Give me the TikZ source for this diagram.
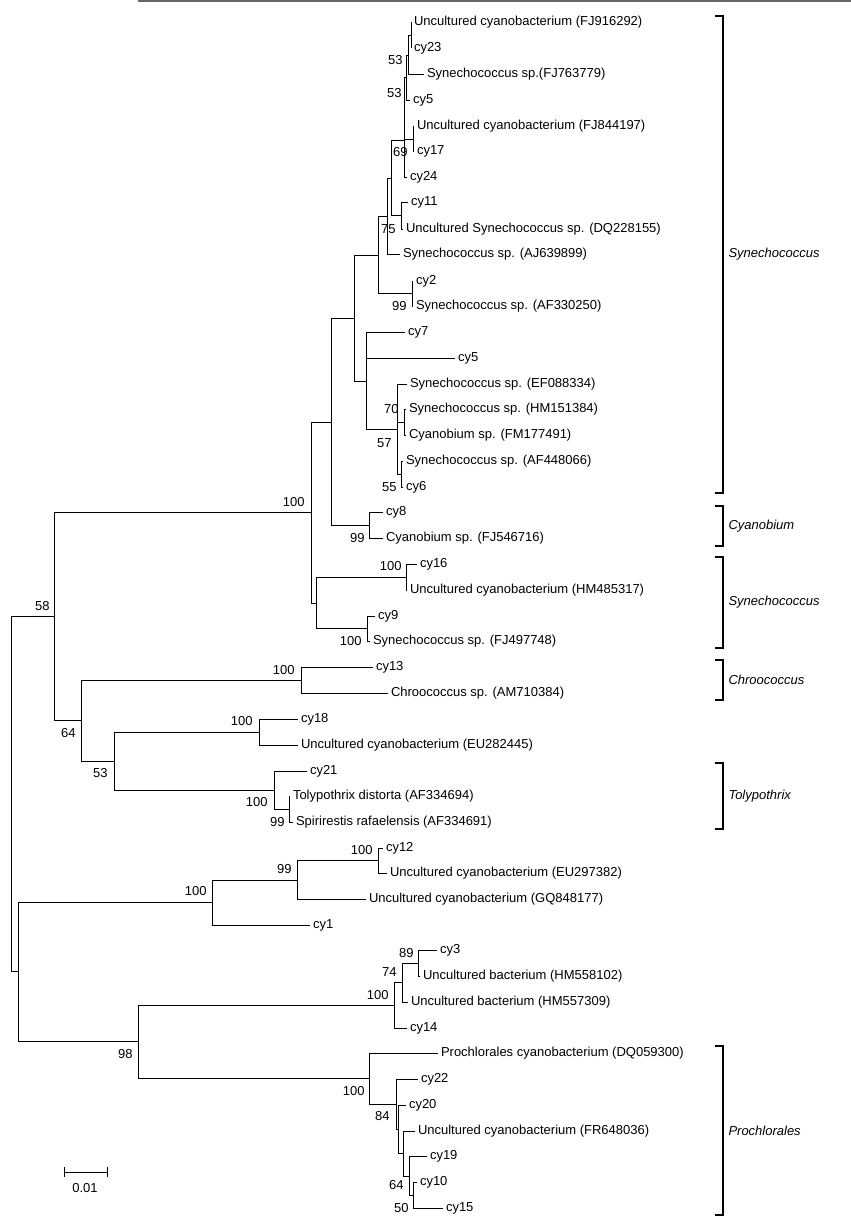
\documentclass[tikz,border=0pt]{standalone}
\usepackage{fontspec}
\setmainfont{Liberation Sans}
\begin{document}
\begin{tikzpicture}[x=1pt,y=-1pt,line width=1pt,
  leaf/.style={anchor=west,inner sep=0pt,inner xsep=2.5pt,font=\fontsize{13}{15}\selectfont},
  bs/.style={anchor=east,inner sep=0pt,font=\fontsize{13}{15}\selectfont},
  grp/.style={anchor=west,inner sep=0pt,font=\fontsize{13}{15}\selectfont\itshape},
  br/.style={line width=1.2pt}]
\useasboundingbox (0,0) rectangle (851,1224);
\draw[gray!80!black,line width=1.3pt] (138,1) -- (851,1);
% leaves
\foreach \n/\x/\y/\t in {
L1/411/22/{Uncultured cyanobacterium (FJ916292)},
L2/411/48/{cy23},
L3/424/74/{Synechococcus sp.(FJ763779)},
L4/410/100/{cy5},
L5/414/126/{Uncultured cyanobacterium (FJ844197)},
L6/414/151/{cy17},
L7/407/177/{cy24},
L8/408/202/{cy11},
L9/403/229/{Uncultured Synechococcus sp. (DQ228155)},
L10/400/254/{Synechococcus sp. (AJ639899)},
L11/413/281/{cy2},
L12/413/306/{Synechococcus sp. (AF330250)},
L13/405/332/{cy7},
L14/455/358/{cy5},
L15/407/384/{Synechococcus sp. (EF088334)},
L16/406/409/{Synechococcus sp. (HM151384)},
L17/406/435/{Cyanobium sp. (FM177491)},
L18/403/461/{Synechococcus sp. (AF448066)},
L19/403/487/{cy6},
L20/383/512/{cy8},
L21/383/538/{Cyanobium sp. (FJ546716)},
L22/417/564/{cy16},
L23/407/590/{Uncultured cyanobacterium (HM485317)},
L24/375/616/{cy9},
L25/370/641/{Synechococcus sp. (FJ497748)},
L26/373/667/{cy13},
L27/388/693/{Chroococcus sp. (AM710384)},
L28/298/719/{cy18},
L29/298/745/{Uncultured cyanobacterium (EU282445)},
L30/307/771/{cy21},
L31/290/796/{Tolypothrix distorta (AF334694)},
L32/293/822/{Spirirestis rafaelensis (AF334691)},
L33/383/848/{cy12},
L34/387/873/{Uncultured cyanobacterium (EU297382)},
L35/366/899/{Uncultured cyanobacterium (GQ848177)},
L36/310/925/{cy1},
L37/437/950/{cy3},
L38/420/976/{Uncultured bacterium (HM558102)},
L39/408/1002/{Uncultured bacterium (HM557309)},
L40/407/1028/{cy14},
L41/438/1053/{Prochlorales cyanobacterium (DQ059300)},
L42/418/1079/{cy22},
L43/406/1105/{cy20},
L44/415/1131/{Uncultured cyanobacterium (FR648036)},
L45/427/1156/{cy19},
L46/417/1182/{cy10},
L47/443/1208/{cy15}}
  {\node[leaf] (\n) at (\x,\y) {\t};}
% internal nodes
\foreach \n/\x/\y in {n1/411/35,n2/408/55,n3/406/77,n4/413/139,n5/404/140,n6/401/215,
 n7/391/178,n8/387/216,n10/412/293,n9/378/255,n14/404/422,n15/401/474,n13/397/429,
 n12/366/381,n11/354/318,n17/369/525,n16/331/422,n20/406/577,n21/367/628,n19/316/603,
 n18/311/512,n23/301/680,n24/259/732,n25/289/809,n26/274/790,n27/114/761,n28/81/720,
 n22/54/616,n29/378/860,n30/297/880,n31/212/902,n36/418/963,n37/402/982,n34/394/1005,
 n42/413/1195,n41/409/1176,n40/403/1153,n39/398/1129,n38/396/1104,n35/369/1078,
 n33/138/1041,n32/18/971,root/11/793}
  {\coordinate (\n) at (\x,\y);}
% edges
\foreach \p/\c in {n1/L1.west,n1/L2.west,n2/n1,n2/L3.west,n3/n2,n3/L4.west,
 n4/L5.west,n4/L6.west,n5/n3,n5/n4,n5/L7.west,n6/L8.west,n6/L9.west,
 n7/n5,n7/n6,n8/n7,n8/L10.west,n10/L11.west,n10/L12.west,n9/n8,n9/n10,
 n14/L16.west,n14/L17.west,n15/L18.west,n15/L19.west,n13/L15.west,n13/n14,n13/n15,
 n12/L13.west,n12/L14.west,n12/n13,n11/n9,n11/n12,n17/L20.west,n17/L21.west,
 n16/n11,n16/n17,n20/L22.west,n20/L23.west,n21/L24.west,n21/L25.west,n19/n20,n19/n21,
 n18/n16,n18/n19,n23/L26.west,n23/L27.west,n24/L28.west,n24/L29.west,
 n25/L31.west,n25/L32.west,n26/L30.west,n26/n25,n27/n24,n27/n26,n28/n23,n28/n27,
 n22/n18,n22/n28,n29/L33.west,n29/L34.west,n30/n29,n30/L35.west,n31/n30,n31/L36.west,
 n36/L37.west,n36/L38.west,n37/n36,n37/L39.west,n34/n37,n34/L40.west,
 n42/L46.west,n42/L47.west,n41/L45.west,n41/n42,n40/L44.west,n40/n41,
 n39/L43.west,n39/n40,n38/L42.west,n38/n39,n35/L41.west,n35/n38,
 n33/n34,n33/n35,n32/n31,n32/n33,root/n22,root/n32}
  {\draw (\p) |- (\c);}
% bootstrap values
\foreach \x/\y/\t in {403/60/53,402/93/53,408/152/69,396/229/75,407/306/99,399/409/70,
 392/443/57,397/487/55,305/502/100,365/538/99,402/566/100,362/641/100,50/606/58,
 295/670/100,253/721/100,76/733/64,108/773/53,268/802/100,285/822/99,
 373/850/100,292/869/99,207/891/100,414/953/89,397/972/74,389/995/100,
 133/1054/98,365/1091/100,390/1116/84,404/1185/64,409/1208/50}
  {\node[bs] at (\x,\y) {\t};}
% group brackets
\foreach \a/\b/\t in {16/493/Synechococcus,506/546/Cyanobium,557/648/Synechococcus,
 660/700/Chroococcus,763/829/Tolypothrix,1046/1215/Prochlorales}
  {\draw[br] (715,\a) -- (723,\a) -- (723,\b) -- (715,\b);
   \node[grp] at (728,{(\a+\b)/2}) {\t};}
% scale bar
\coordinate (s1) at (64,1172); \coordinate (s2) at (107,1172);
\draw (s1) -- (s2);
\draw ([yshift=-5]s1) -- ([yshift=5]s1);
\draw ([yshift=-5]s2) -- ([yshift=5]s2);
\node[font=\fontsize{13}{15}\selectfont] at (85,1188) {0.01};
\end{tikzpicture}
\end{document}
